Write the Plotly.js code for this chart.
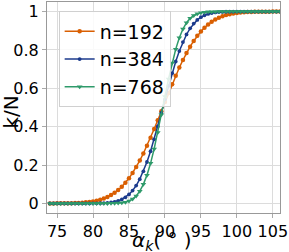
<!DOCTYPE html>
<html>
<head>
<meta charset="utf-8">
<script src="https://cdn.plot.ly/plotly-3.0.1.min.js"></script>
<style>html,body{margin:0;padding:0;background:#fff;}#plot{width:289px;height:252px;}</style>
</head>
<body>
<div id="plot"></div>
<script>
const alphaDeg = [74,74.5,75,75.5,76,76.5,77,77.5,78,78.5,79,79.5,80,80.5,81,81.5,82,82.5,83,83.5,84,84.5,85,85.5,86,86.5,87,87.5,88,88.5,89,89.5,90,90.5,91,91.5,92,92.5,93,93.5,94,94.5,95,95.5,96,96.5,97,97.5,98,98.5,99,99.5,100,100.5,101,101.5,102,102.5,103,103.5,104,104.5,105,105.5,106];

const kN_192 = [0.0001,0.0001,0.0002,0.0004,0.0006,0.0008,0.0012,0.0018,0.0027,0.0038,0.0054,0.0076,0.0104,0.0143,0.0192,0.0255,0.0334,0.0433,0.0553,0.0700,0.0874,0.1079,0.1316,0.1587,0.1892,0.2231,0.2601,0.3002,0.3428,0.3875,0.4337,0.4809,0.5283,0.5753,0.6217,0.6660,0.7081,0.7475,0.7840,0.8172,0.8470,0.8735,0.8965,0.9164,0.9332,0.9473,0.9589,0.9684,0.9759,0.9819,0.9866,0.9902,0.9929,0.9949,0.9964,0.9975,0.9983,0.9988,0.9992,0.9995,0.9997,0.9998,0.9999,0.9999,1.0];

const kN_384 = [0,0,0,0,0,0,0,0,0,0,0,0,0.0003,0.0005,0.0009,0.0017,0.0030,0.0051,0.0084,0.0134,0.0209,0.0316,0.0466,0.0668,0.0932,0.1265,0.1675,0.2160,0.2719,0.3340,0.4013,0.4717,0.5426,0.6125,0.6787,0.7399,0.7943,0.8413,0.8807,0.9126,0.9377,0.9567,0.9708,0.9808,0.9878,0.9924,0.9954,0.9973,0.9985,0.9992,0.9996,0.9998,1.0,1.0,1.0,1.0,1.0,1.0,1.0,1.0,1.0,1.0,1.0,1.0,1.0];

const kN_768 = [0,0,0,0,0,0,0,0,0,0,0,0,0,0,0,0,0,0.0003,0.0007,0.0016,0.0033,0.0066,0.0126,0.0228,0.0390,0.0638,0.0993,0.1474,0.2090,0.2839,0.3696,0.4621,0.5569,0.6484,0.7321,0.8043,0.8633,0.9088,0.9419,0.9648,0.9797,0.9889,0.9942,0.9971,0.9987,0.9994,0.9997,1.0,1.0,1.0,1.0,1.0,1.0,1.0,1.0,1.0,1.0,1.0,1.0,1.0,1.0,1.0,1.0,1.0,1.0];

const seriesNames = ['n=192','n=384','n=768'];
const xTicks = [75,80,85,90,95,100,105];
const yTicks = [0,0.2,0.4,0.6,0.8,1];
const yTickText = ['0','0.2','0.4','0.6','0.8','1'];
const xTitle = '<i>α<sub>k</sub></i>( ° )';
const yTitle = 'k/N';

const colors = ['#d95f02','#1b3a8c','#2e9a6a'];
const symbols = ['circle','circle','triangle-down'];
const msizes = [4.5,3.8,5];
const ys = [kN_192, kN_384, kN_768];

const traces = ys.map((y,i)=>({
  x: alphaDeg, y: y, name: seriesNames[i], type:'scatter', mode:'lines+markers',
  line:{color:colors[i], width:1.5},
  marker:{color:colors[i], symbol:symbols[i], size:msizes[i]},
  hoverinfo:'skip'
}));

const ff = 'DejaVu Sans, sans-serif';
const layout = {
  width:289, height:252,
  margin:{l:47, r:9, t:2, b:39, pad:0},
  paper_bgcolor:'#fff', plot_bgcolor:'#fff',
  showlegend:true,
  legend:{x:0.05, y:0.955, xanchor:'left', yanchor:'top',
    bgcolor:'rgba(255,255,255,0.85)', bordercolor:'#d0d0d0', borderwidth:1,
    font:{family:ff, size:19, color:'#000'}, itemwidth:30, tracegroupgap:0},
  xaxis:{range:[73.6,106], tickvals:xTicks, ticktext:xTicks.map(String),
    showgrid:true, gridcolor:'#dcdcdc', gridwidth:1, zeroline:false,
    showline:true, linecolor:'#999', linewidth:1, mirror:true,
    ticks:'outside', ticklen:4, tickcolor:'#aaa',
    tickfont:{family:ff, size:16, color:'#000'}},
  yaxis:{range:[-0.05,1.05], tickvals:yTicks, ticktext:yTickText,
    showgrid:true, gridcolor:'#dcdcdc', gridwidth:1, zeroline:false,
    showline:true, linecolor:'#999', linewidth:1, mirror:true,
    ticks:'outside', ticklen:4, tickcolor:'#aaa',
    tickfont:{family:ff, size:16, color:'#000'}},
  annotations:[
    {text:xTitle, xref:'paper', yref:'paper', x:0.4936, y:-0.135, xanchor:'center', yanchor:'middle',
     showarrow:false, font:{family:ff, size:20, color:'#000'}},
    {text:yTitle, xref:'paper', yref:'paper', x:-0.155, y:0.48, xanchor:'center', yanchor:'middle',
     textangle:-90, showarrow:false, font:{family:ff, size:20, color:'#000'}}
  ]
};

Plotly.newPlot('plot', traces, layout, {staticPlot:true, displayModeBar:false});
</script>
</body>
</html>
